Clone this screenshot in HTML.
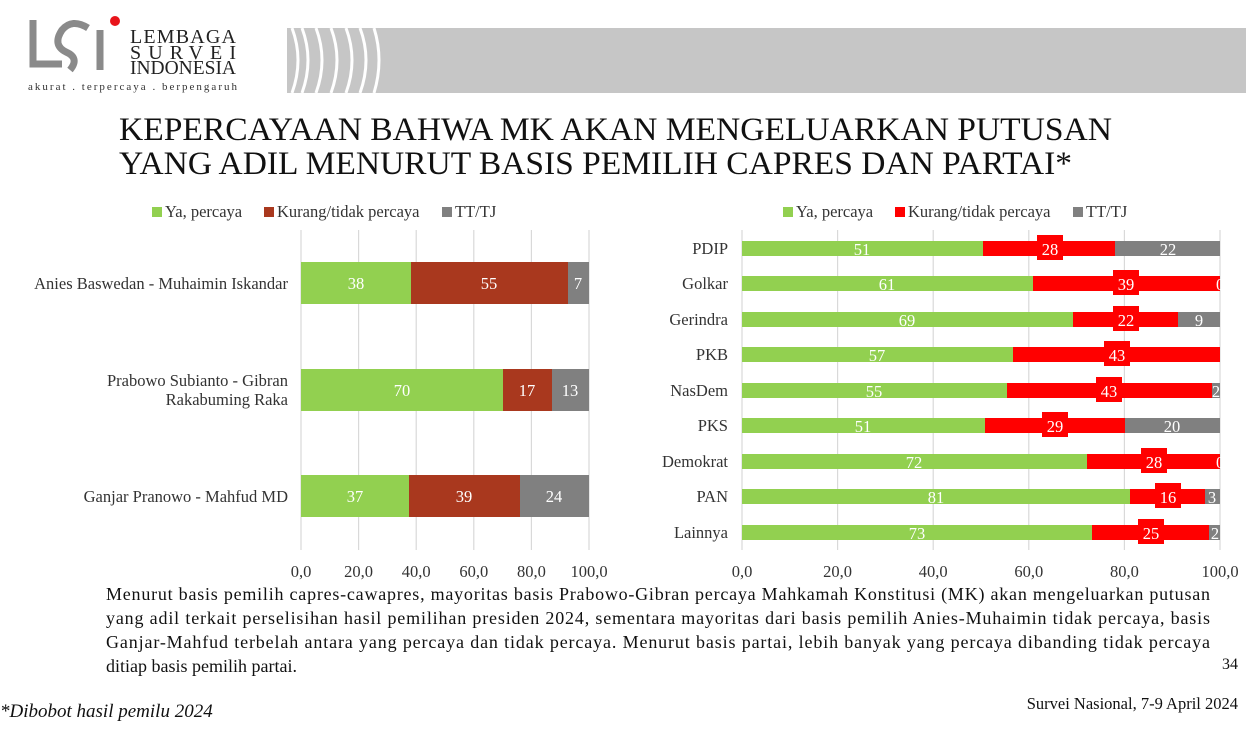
<!DOCTYPE html><html><head><meta charset="utf-8"><style>
body{margin:0;width:1246px;height:729px;background:#fff;position:relative;overflow:hidden;font-family:"Liberation Serif",serif;}
.a{position:absolute;}
</style></head><body>
<svg class="a" style="left:0;top:0" width="1246" height="729" font-family="Liberation Serif, serif">
<rect x="287" y="28" width="959" height="65" fill="#c6c6c6"/>
<g stroke="#fff" stroke-width="3" fill="none">
<path d="M292 28 Q304 60 292 93"/><path d="M302 28 Q314 60 302 93"/><path d="M316 28 Q328 60 316 93"/><path d="M331 28 Q343 60 331 93"/><path d="M346 28 Q358 60 346 93"/><path d="M360 28 Q372 60 360 93"/><path d="M374 28 Q384 60 374 93"/>
</g>
<g stroke="#8a8a8a" stroke-width="7" fill="none">
<path d="M33 20 V64 H62"/>
<path d="M88 28 Q72 18 62 30 Q52 45 66 52 Q80 58 70 70"/>
<path d="M100 30 V70"/>
</g>
<circle cx="115" cy="21" r="5" fill="#e8141b"/>
<text x="130" y="43" font-size="20" fill="#222" textLength="106" lengthAdjust="spacing">LEMBAGA</text>
<text x="130" y="59" font-size="20" fill="#222" textLength="106" lengthAdjust="spacing">SURVEI</text>
<text x="130" y="74" font-size="20" fill="#222" textLength="106" lengthAdjust="spacingAndGlyphs">INDONESIA</text>
<text x="28" y="90" font-size="11" fill="#333" textLength="209" lengthAdjust="spacing">akurat . terpercaya . berpengaruh</text>
<text x="119" y="140" font-size="33" fill="#111" textLength="993" lengthAdjust="spacingAndGlyphs">KEPERCAYAAN BAHWA MK AKAN MENGELUARKAN PUTUSAN</text>
<text x="119" y="174" font-size="33" fill="#111" textLength="953" lengthAdjust="spacingAndGlyphs">YANG ADIL MENURUT BASIS PEMILIH CAPRES DAN PARTAI*</text>
<g font-size="16.5" fill="#333">
<rect x="152" y="207" width="10" height="10" fill="#92d050"/><text x="165" y="217">Ya, percaya</text>
<rect x="264" y="207" width="10" height="10" fill="#a9381e"/><text x="277" y="217">Kurang/tidak percaya</text>
<rect x="442" y="207" width="10" height="10" fill="#808080"/><text x="455" y="217">TT/TJ</text>
</g>
<g stroke="#d9d9d9" stroke-width="1.2">
<line x1="301" y1="230" x2="301" y2="550"/><line x1="358.6" y1="230" x2="358.6" y2="550"/><line x1="416.2" y1="230" x2="416.2" y2="550"/><line x1="473.8" y1="230" x2="473.8" y2="550"/><line x1="531.4" y1="230" x2="531.4" y2="550"/><line x1="589" y1="230" x2="589" y2="550"/>
</g>
<g font-size="16.5" fill="#fff" text-anchor="middle">
<rect x="301" y="262" width="110" height="42" fill="#92d050"/><rect x="411" y="262" width="157" height="42" fill="#a9381e"/><rect x="568" y="262" width="21" height="42" fill="#808080"/>
<text x="356" y="289">38</text><text x="489" y="289">55</text><text x="578" y="289">7</text>
<rect x="301" y="369" width="202" height="42" fill="#92d050"/><rect x="503" y="369" width="49" height="42" fill="#a9381e"/><rect x="552" y="369" width="37" height="42" fill="#808080"/>
<text x="402" y="396">70</text><text x="527" y="396">17</text><text x="570" y="396">13</text>
<rect x="301" y="475" width="108" height="42" fill="#92d050"/><rect x="409" y="475" width="111" height="42" fill="#a9381e"/><rect x="520" y="475" width="69" height="42" fill="#808080"/>
<text x="355" y="502">37</text><text x="464" y="502">39</text><text x="554" y="502">24</text>
</g>
<g font-size="16.5" fill="#333" text-anchor="end">
<text x="288" y="289">Anies Baswedan - Muhaimin Iskandar</text>
<text x="288" y="386">Prabowo Subianto - Gibran</text>
<text x="288" y="405">Rakabuming Raka</text>
<text x="288" y="502">Ganjar Pranowo - Mahfud MD</text>
</g>
<g font-size="16.5" fill="#333" text-anchor="middle">
<text x="301" y="577">0,0</text><text x="358.6" y="577">20,0</text><text x="416.2" y="577">40,0</text><text x="473.8" y="577">60,0</text><text x="531.4" y="577">80,0</text><text x="589" y="577">100,0</text>
</g>
<g font-size="16.5" fill="#333">
<rect x="783" y="207" width="10" height="10" fill="#92d050"/><text x="796" y="217">Ya, percaya</text>
<rect x="895" y="207" width="10" height="10" fill="#ff0000"/><text x="908" y="217">Kurang/tidak percaya</text>
<rect x="1073" y="207" width="10" height="10" fill="#808080"/><text x="1086" y="217">TT/TJ</text>
</g>
<g stroke="#d9d9d9" stroke-width="1.2">
<line x1="742" y1="230" x2="742" y2="550"/><line x1="837.6" y1="230" x2="837.6" y2="550"/><line x1="933.2" y1="230" x2="933.2" y2="550"/><line x1="1028.8" y1="230" x2="1028.8" y2="550"/><line x1="1124.4" y1="230" x2="1124.4" y2="550"/><line x1="1220" y1="230" x2="1220" y2="550"/>
</g>
<g font-size="16.5" fill="#fff" text-anchor="middle">
<g transform="translate(0,241)"><rect x="742" width="241" height="15" fill="#92d050"/><rect x="983" width="132" height="15" fill="#f00"/><rect x="1115" width="105" height="15" fill="#808080"/><text x="862" y="14">51</text><rect x="1037" y="-6" width="26" height="25" fill="#f00"/><text x="1050" y="14">28</text><text x="1168" y="14">22</text></g>
<g transform="translate(0,276)"><rect x="742" width="291" height="15" fill="#92d050"/><rect x="1033" width="187" height="15" fill="#f00"/><text x="887" y="14">61</text><rect x="1113" y="-6" width="26" height="25" fill="#f00"/><text x="1126" y="14">39</text><text x="1216" y="14" text-anchor="start">0</text></g>
<g transform="translate(0,312)"><rect x="742" width="331" height="15" fill="#92d050"/><rect x="1073" width="105" height="15" fill="#f00"/><rect x="1178" width="42" height="15" fill="#808080"/><text x="907" y="14">69</text><rect x="1113" y="-6" width="26" height="25" fill="#f00"/><text x="1126" y="14">22</text><text x="1199" y="14">9</text></g>
<g transform="translate(0,347)"><rect x="742" width="271" height="15" fill="#92d050"/><rect x="1013" width="207" height="15" fill="#f00"/><text x="877" y="14">57</text><rect x="1104" y="-6" width="26" height="25" fill="#f00"/><text x="1117" y="14">43</text></g>
<g transform="translate(0,383)"><rect x="742" width="265" height="15" fill="#92d050"/><rect x="1007" width="205" height="15" fill="#f00"/><rect x="1212" width="8" height="15" fill="#808080"/><text x="874" y="14">55</text><rect x="1096" y="-6" width="26" height="25" fill="#f00"/><text x="1109" y="14">43</text><text x="1216" y="14">2</text></g>
<g transform="translate(0,418)"><rect x="742" width="243" height="15" fill="#92d050"/><rect x="985" width="140" height="15" fill="#f00"/><rect x="1125" width="95" height="15" fill="#808080"/><text x="863" y="14">51</text><rect x="1042" y="-6" width="26" height="25" fill="#f00"/><text x="1055" y="14">29</text><text x="1172" y="14">20</text></g>
<g transform="translate(0,454)"><rect x="742" width="345" height="15" fill="#92d050"/><rect x="1087" width="133" height="15" fill="#f00"/><text x="914" y="14">72</text><rect x="1141" y="-6" width="26" height="25" fill="#f00"/><text x="1154" y="14">28</text><text x="1216" y="14" text-anchor="start">0</text></g>
<g transform="translate(0,489)"><rect x="742" width="388" height="15" fill="#92d050"/><rect x="1130" width="75" height="15" fill="#f00"/><rect x="1205" width="15" height="15" fill="#808080"/><text x="936" y="14">81</text><rect x="1155" y="-6" width="26" height="25" fill="#f00"/><text x="1168" y="14">16</text><text x="1212" y="14">3</text></g>
<g transform="translate(0,525)"><rect x="742" width="350" height="15" fill="#92d050"/><rect x="1092" width="117" height="15" fill="#f00"/><rect x="1209" width="11" height="15" fill="#808080"/><text x="917" y="14">73</text><rect x="1138" y="-6" width="26" height="25" fill="#f00"/><text x="1151" y="14">25</text><text x="1215" y="14">2</text></g>
</g>
<g font-size="16.5" fill="#333" text-anchor="end">
<text x="728" y="254">PDIP</text><text x="728" y="289">Golkar</text><text x="728" y="325">Gerindra</text><text x="728" y="360">PKB</text><text x="728" y="396">NasDem</text><text x="728" y="431">PKS</text><text x="728" y="467">Demokrat</text><text x="728" y="502">PAN</text><text x="728" y="538">Lainnya</text>
</g>
<g font-size="16.5" fill="#333" text-anchor="middle">
<text x="742" y="577">0,0</text><text x="837.6" y="577">20,0</text><text x="933.2" y="577">40,0</text><text x="1028.8" y="577">60,0</text><text x="1124.4" y="577">80,0</text><text x="1220" y="577">100,0</text>
</g>
<g font-size="18" fill="#111">
<text x="106" y="600" textLength="1104" lengthAdjust="spacing">Menurut basis pemilih capres-cawapres, mayoritas basis Prabowo-Gibran percaya Mahkamah Konstitusi (MK) akan mengeluarkan putusan</text>
<text x="106" y="624" textLength="1104" lengthAdjust="spacing">yang adil terkait perselisihan hasil pemilihan presiden 2024, sementara mayoritas dari basis pemilih Anies-Muhaimin tidak percaya, basis</text>
<text x="106" y="648" textLength="1104" lengthAdjust="spacing">Ganjar-Mahfud terbelah antara yang percaya dan tidak percaya. Menurut basis partai, lebih banyak yang percaya dibanding tidak percaya</text>
<text x="106" y="672">ditiap basis pemilih partai.</text>
</g>
<text x="1222" y="669" font-size="16" fill="#111">34</text>
<text x="0" y="717" font-size="19" font-style="italic" fill="#111">*Dibobot hasil pemilu 2024</text>
<text x="1238" y="709" font-size="16.5" fill="#111" text-anchor="end">Survei Nasional, 7-9 April 2024</text>
</svg>
</body></html>
